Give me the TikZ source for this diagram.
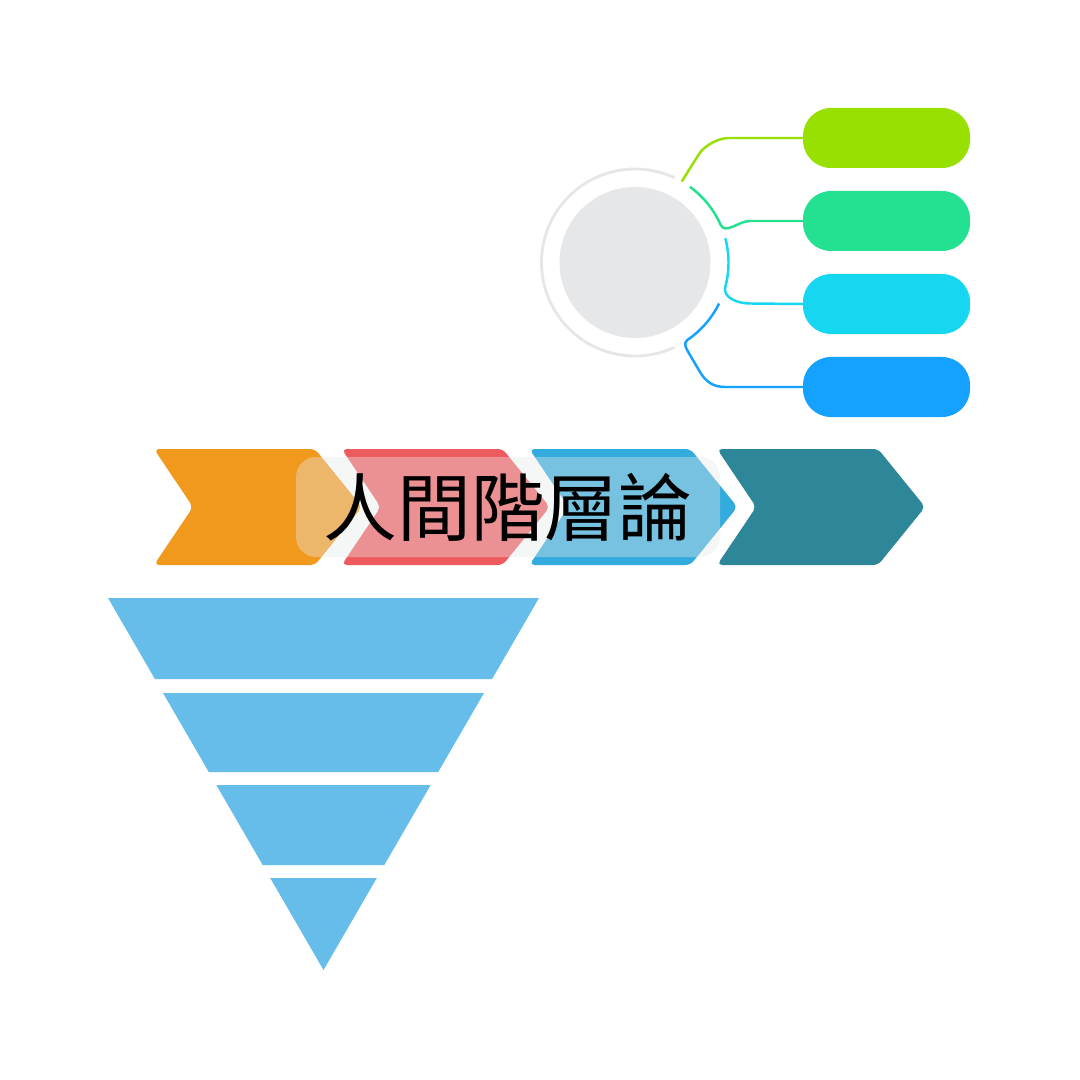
\documentclass[tikz,border=0pt]{standalone}
\usepackage{fontspec}
\newfontfamily\cjk{Noto Sans CJK TC}
\usepackage{xcolor}
\usepackage{tikz}
\usetikzlibrary{positioning}

\definecolor{chevOrange}{HTML}{F0991D}
\definecolor{chevRed}{HTML}{EE5B5F}
\definecolor{chevBlue}{HTML}{33ABDD}
\definecolor{chevTeal}{HTML}{2D8799}
\definecolor{pillA}{HTML}{97E002}
\definecolor{pillB}{HTML}{23E190}
\definecolor{pillC}{HTML}{16D6F0}
\definecolor{pillD}{HTML}{15A1FF}
\definecolor{hubGray}{HTML}{E6E7E8}
\definecolor{ringGray}{HTML}{E6E6E6}
\definecolor{veilGray}{HTML}{E7E8E9}
\definecolor{funnelBlue}{HTML}{66BDE9}

\begin{document}
\begin{tikzpicture}[scale=1,
  pill/.style={rectangle, rounded corners=0.28cm, minimum width=1.67cm, minimum height=0.6cm, inner sep=0pt, outer sep=0pt},
  link/.style={line width=0.7pt},
  band/.style={fill=funnelBlue}]

% Canvas
\fill[white] (0,0) rectangle (10.8,-10.8);
\useasboundingbox (0,0) rectangle (10.8,-10.8);

% Draw hub and ring
\node[circle, fill=hubGray, minimum size=1.51cm, inner sep=0pt] (hub) at (6.35,-2.625) {};
\node[circle, minimum size=1.87cm, inner sep=0pt, outer sep=0pt] (ring) at (hub.center) {};
\draw[ringGray, line width=0.8pt] (ring.65) arc[start angle=65, end angle=295, radius=0.935];

% Draw pills
\node[pill, fill=pillA] (pill1) at (8.865,-1.38) {};
\node[pill, fill=pillB, below=0.23cm of pill1] (pill2) {};
\node[pill, fill=pillC, below=0.23cm of pill2] (pill3) {};
\node[pill, fill=pillD, below=0.23cm of pill3] (pill4) {};

% Draw links
\draw[link, pillA, rounded corners=0.2cm] (ring.60) -- (7.09,-1.38) -- (pill1.west);
\draw[link, pillB] (ring.54) arc[start angle=54, end angle=24, radius=0.935] to[out=-66, in=180] (7.5,-2.21) -- (pill2.west);
\draw[link, pillC] (ring.15) arc[start angle=15, end angle=-15, radius=0.935] to[out=-105, in=180] (7.5,-3.035) -- (pill3.west);
\draw[link, pillD] (ring.-26) arc[start angle=-26, end angle=-56, radius=0.935] to[out=-146, in=120] (6.90,-3.55) -- (7.0,-3.72) to[out=-60, in=180] (7.25,-3.87) -- (pill4.west);

% Draw chevrons
\foreach \i/\col in {0/chevOrange,1/chevRed,2/chevBlue,3/chevTeal}{
  \pgfmathsetmacro\lx{1.54+1.877*\i}
  \fill[\col, rounded corners=0.05cm] (\lx,-4.49) -- ++(1.61,0) -- ++(0.47,-0.58) -- ++(-0.47,-0.58) -- ++(-1.61,0) -- ++(0.39,0.58) -- cycle;
}

% Title on veil
\node[fill=veilGray, fill opacity=0.38, text opacity=1, rounded corners=0.2cm, minimum width=4.24cm, minimum height=1.0cm, inner sep=0pt,
  font=\cjk\fontsize{21}{24}\selectfont] (title) at (5.08,-5.07) {人間階層論};

% Draw funnel
\foreach \t/\b in {5.98/6.79,6.93/7.72,7.85/8.65,8.78/9.70}{
  \pgfmathsetmacro\wt{2.155*(9.70-\t)/3.72}
  \pgfmathsetmacro\wb{2.155*(9.70-\b)/3.72}
  \fill[band] ({3.235-\wt},-\t) -- ({3.235+\wt},-\t) -- ({3.235+\wb},-\b) -- ({3.235-\wb},-\b) -- cycle;
}

\end{tikzpicture}
\end{document}
